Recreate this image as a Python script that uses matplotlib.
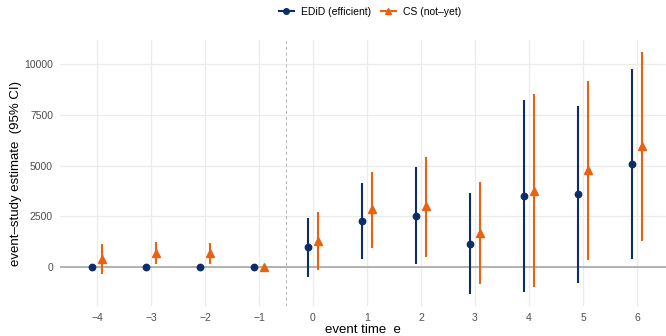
import numpy as np
import matplotlib.pyplot as plt
from matplotlib.lines import Line2D

plt.rcParams['font.family'] = ['Liberation Sans', 'DejaVu Sans']

event_time = [-4, -3, -2, -1, 0, 1, 2, 3, 4, 5, 6]

# EDiD (efficient)
edid_est = [0, 0, 0, 0, 970, 2255, 2516, 1160, 3513, 3578, 5082]
edid_lo = [0, 0, 0, 0, -470, 392, 147, -1320, -1209, -801, 425]
edid_hi = [0, 0, 0, 0, 2400, 4118, 4918, 3645, 8235, 7941, 9739]

# CS (not-yet)
cs_est = [392, 719, 719, 15, 1291, 2843, 3006, 1699, 3742, 4771, 5948]
cs_lo = [-359, 163, 164, 15, -147, 946, 523, -833, -997, 343, 1275]
cs_hi = [1127, 1242, 1176, 15, 2712, 4690, 5425, 4183, 8513, 9150, 10605]

BLUE = "#0c2c6a"
ORANGE = "#e8620f"
DODGE = 0.1

fig = plt.figure(figsize=(6.66, 3.36), dpi=100)
ax = fig.add_axes([60/666, 30/336, 606/666, 266/336])

x = np.array(event_time, dtype=float)

ax.axhline(0, color="#a6a6a6", lw=1.2, zorder=1)
ax.axvline(-0.5, color="#b0b0b0", lw=0.7, ls=(0, (3, 3)), zorder=1)

ax.vlines(x - DODGE, edid_lo, edid_hi, color=BLUE, lw=1.5, zorder=3)
ax.plot(x - DODGE, edid_est, "o", color=BLUE, ms=4.6, zorder=4)
ax.vlines(x + DODGE, cs_lo, cs_hi, color=ORANGE, lw=1.5, zorder=3)
ax.plot(x + DODGE, cs_est, "^", color=ORANGE, ms=5.6, zorder=4)

ax.set_xlim(-4.684, 6.536)
ax.set_ylim(-1912, 11176)
ax.set_xticks(event_time)
ax.set_xticklabels([str(v).replace("-", "\u2212") for v in event_time])
ax.set_yticks([0, 2500, 5000, 7500, 10000])
ax.tick_params(length=0, labelsize=7.5, labelcolor="#4d4d4d", pad=5)
ax.grid(True, color="#ebebeb", lw=0.9, zorder=0)
ax.set_axisbelow(True)
for s in ax.spines.values():
    s.set_visible(False)

ax.set_xlabel("event time  e", fontsize=9.5, labelpad=1)
ax.set_ylabel("event\u2013study estimate  (95% CI)", fontsize=9.5, labelpad=1.5)

handles = [
    Line2D([], [], color=BLUE, marker="o", ms=4, lw=1.5),
    Line2D([], [], color=ORANGE, marker="^", ms=5, lw=1.5),
]
fig.legend(handles, ["EDiD (efficient)", "CS (not\u2013yet)"], loc="center",
           bbox_to_anchor=(370/666, 1 - 12/336), ncol=2, frameon=False,
           fontsize=7.5, handlelength=1.45, columnspacing=0.9, handletextpad=0.7)

fig.savefig("out.png", dpi=100)
